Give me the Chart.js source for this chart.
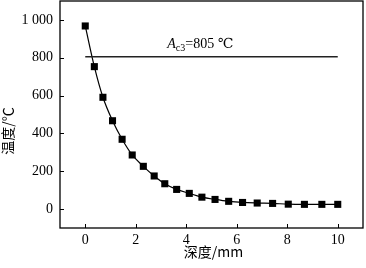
<!doctype html>
<html>
  <head>
    <script src="https://cdn.jsdelivr.net/npm/chart.js"></script>
    <meta charset="utf-8" />
    <style>
      html, body { margin: 0; padding: 0; background: #fff; }
    </style>
  </head>
  <body>
    <canvas id="depthChart" width="366" height="268"></canvas>
    <script>
      // data
      const depth = [0, 0.36, 0.7, 1.08, 1.46, 1.86, 2.3, 2.73, 3.15, 3.62, 4.12, 4.62, 5.14, 5.68, 6.23, 6.81, 7.42, 8.04, 8.68, 9.37, 10];
      const temperature = [968, 753, 591, 467, 369, 286, 226, 175, 134, 104, 83, 63, 51, 41, 35, 32, 30, 26, 25, 25, 25];
      const ac3Value = 805;
      const ac3Span = [0, 10];
      const xTicks = [0, 2, 4, 6, 8, 10];
      const yTicks = [0, 200, 400, 600, 800, 1000];
      const xTitle = "深度/mm";
      const yTitle = "温度/℃";

      const serif = "'Liberation Serif', 'DejaVu Serif', serif";
      const cjk = "'Noto Sans CJK SC', 'Liberation Serif', serif";

      // frame, inward ticks, Ac3 label and axis titles
      const framePlugin = {
        id: "frame",
        afterDraw(chart) {
          const c = chart.ctx;
          const a = chart.chartArea;
          const xs = chart.scales.x;
          const ys = chart.scales.y;
          c.save();
          c.strokeStyle = "#000";
          c.lineWidth = 1.3;
          c.strokeRect(a.left, a.top, a.right - a.left, a.bottom - a.top);
          c.lineWidth = 1;
          c.beginPath();
          xTicks.forEach((v) => {
            const px = Math.round(xs.getPixelForValue(v)) + 0.5;
            c.moveTo(px, a.bottom);
            c.lineTo(px, a.bottom - 4);
          });
          yTicks.forEach((v) => {
            const py = Math.round(ys.getPixelForValue(v)) + 0.5;
            c.moveTo(a.left, py);
            c.lineTo(a.left + 4, py);
          });
          c.stroke();

          // A_c3 = 805 label
          c.fillStyle = "#000";
          c.textBaseline = "alphabetic";
          c.textAlign = "left";
          let tx = xs.getPixelForValue(3.25);
          const ty = ys.getPixelForValue(852);
          c.font = "italic 14px " + serif;
          c.fillText("A", tx, ty);
          tx += c.measureText("A").width;
          c.font = "10px " + serif;
          c.fillText("c3", tx, ty + 3);
          tx += c.measureText("c3").width;
          c.font = "14px " + serif;
          c.fillText("=" + ac3Value + " ℃", tx, ty);

          // axis titles
          c.font = "14px " + cjk;
          c.textAlign = "center";
          c.textBaseline = "middle";
          c.fillText(xTitle, (a.left + a.right) / 2 + 2, 252);
          c.translate(8, 131);
          c.rotate(-Math.PI / 2);
          c.fillText(yTitle, 0, 0);
          c.restore();
        },
      };

      const ctx = document.getElementById("depthChart").getContext("2d");
      new Chart(ctx, {
        type: "scatter",
        data: {
          datasets: [
            {
              label: "Ac3",
              data: ac3Span.map((x) => ({ x: x, y: ac3Value })),
              showLine: true,
              borderColor: "#222",
              borderWidth: 1.4,
              pointRadius: 0,
            },
            {
              label: "temperature",
              data: depth.map((x, i) => ({ x: x, y: temperature[i] })),
              showLine: true,
              cubicInterpolationMode: "monotone",
              borderColor: "#000",
              borderWidth: 1.2,
              pointStyle: "rect",
              pointRadius: 5,
              pointBackgroundColor: "#000",
              pointBorderColor: "#000",
              pointBorderWidth: 0,
            },
          ],
        },
        options: {
          responsive: false,
          animation: false,
          layout: { autoPadding: false, padding: { top: 1, right: 3, left: 0, bottom: 0 } },
          plugins: { legend: { display: false }, tooltip: { enabled: false } },
          scales: {
            x: {
              type: "linear",
              min: -1,
              max: 11,
              afterBuildTicks: (s) => { s.ticks = xTicks.map((v) => ({ value: v })); },
              afterFit: (s) => {
                s.height = 40;
                s.paddingLeft = 0;
                s.paddingRight = 0;
              },
              grid: { display: false, drawTicks: false },
              border: { display: false },
              ticks: {
                color: "#000",
                font: { family: serif, size: 14 },
                padding: 4,
                maxRotation: 0,
              },
            },
            y: {
              min: -100,
              max: 1100,
              afterBuildTicks: (s) => { s.ticks = yTicks.map((v) => ({ value: v })); },
              afterFit: (s) => {
                s.width = 60;
                s.paddingTop = 0;
                s.paddingBottom = 0;
              },
              grid: { display: false, drawTicks: false },
              border: { display: false },
              ticks: {
                color: "#000",
                font: { family: serif, size: 14 },
                padding: 7,
                callback: (v) => (v >= 1000 ? "1 000" : String(v)),
              },
            },
          },
        },
        plugins: [framePlugin],
      });
    </script>
  </body>
</html>
